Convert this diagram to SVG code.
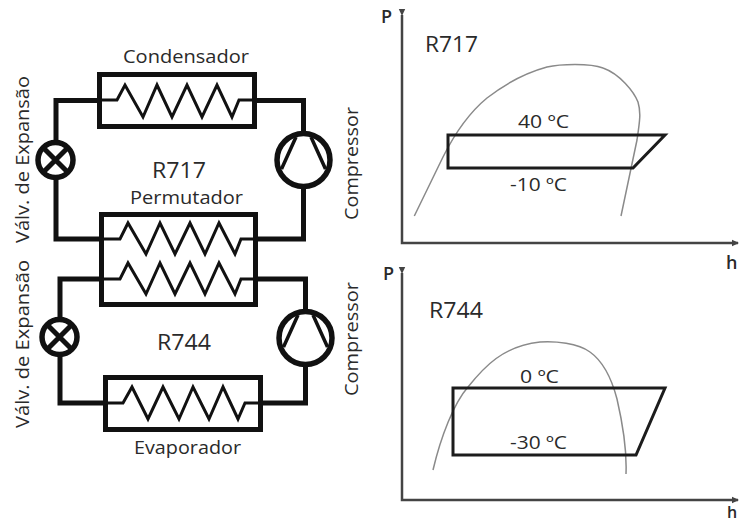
<svg xmlns="http://www.w3.org/2000/svg" width="739" height="524" viewBox="0 0 739 524">
<style>
text{font-family:"Open Sans","Noto Sans",sans-serif;fill:#2a2a2a;font-size:18px}
.big{font-size:22px}
.pl{font-weight:600;font-size:18px}
.box{fill:none;stroke:#111;stroke-width:5}
.zig{fill:none;stroke:#111;stroke-width:3;stroke-linejoin:miter}
.wire{fill:none;stroke:#111;stroke-width:5}
.sym{fill:#fff;stroke:#111;stroke-width:5.500}
.in{fill:none;stroke:#111;stroke-width:3.500}
.x{fill:none;stroke:#111;stroke-width:5}
.axis{fill:none;stroke:#444;stroke-width:2.500}
.curve{fill:none;stroke:#8a8a8a;stroke-width:1.500}
.cycle{fill:none;stroke:#1c1c1c;stroke-width:3}
</style>
<defs>
<marker id="ah" markerUnits="userSpaceOnUse" markerWidth="8" markerHeight="8" refX="6" refY="4" orient="auto"><path d="M0 0.800L7 4L0 7.200Z" fill="#444"/></marker>
</defs>
<rect width="739" height="524" fill="#fff"/>
<g id="connectors">
<path class="wire" d="M99 100.500H56V160V239H101"/>
<path class="wire" d="M255 100.500H303.500V160V239H256"/>
<path class="wire" d="M101 279H60V337V403H105"/>
<path class="wire" d="M256 279H305.500V338V403H261"/>
</g>
<g id="condensador">
<rect class="box" x="99.500" y="74.500" width="155" height="52"/>
<path class="zig" d="M99 100H117L125 85L143 117L157 85L172 117L187 85L202 117L217 85L232 117L239 100H256"/>
<text x="123" y="63" textLength="126" lengthAdjust="spacingAndGlyphs">Condensador</text>
</g>
<g id="permutador">
<rect class="box" x="101.500" y="214.500" width="154" height="90"/>
<path class="zig" d="M101 239H120L128 223L146 254L160 223L175 254L190 223L205 254L219 223L235 254L241 239H256"/>
<path class="zig" d="M101 279H120L128 263L146 294L160 263L175 294L190 263L205 294L219 263L235 294L241 279H256"/>
<text x="130" y="204" textLength="113" lengthAdjust="spacingAndGlyphs">Permutador</text>
</g>
<g id="evaporador">
<rect class="box" x="105.500" y="377.500" width="155" height="52"/>
<path class="zig" d="M105 403H123L132 387L148 419L163 387L179 419L193 387L209 419L223 387L238 419L245 403H261"/>
<text x="134" y="454" textLength="107" lengthAdjust="spacingAndGlyphs">Evaporador</text>
</g>
<g id="valvula-r717">
<circle class="sym" cx="55.500" cy="160" r="17.500"/>
<path class="x" d="M43 147.500L68 172.500M68 147.500L43 172.500"/>
<text transform="translate(29 243) rotate(-90)" textLength="167" lengthAdjust="spacingAndGlyphs">Válv. de Expansão</text>
</g>
<g id="valvula-r744">
<circle class="sym" cx="59.500" cy="337" r="17.500"/>
<path class="x" d="M47 324.500L72 349.500M72 324.500L47 349.500"/>
<text transform="translate(29 428) rotate(-90)" textLength="168" lengthAdjust="spacingAndGlyphs">Válv. de Expansão</text>
</g>
<g id="compressor-r717">
<circle class="sym" cx="303.500" cy="160" r="26.500"/>
<path class="in" d="M296 137L281.500 169M311 137L325.500 169"/>
<text transform="translate(358 220) rotate(-90)" textLength="113" lengthAdjust="spacingAndGlyphs">Compressor</text>
</g>
<g id="compressor-r744">
<circle class="sym" cx="305.500" cy="338" r="26.500"/>
<path class="in" d="M298 315L283.500 347M313 315L327.500 347"/>
<text transform="translate(358 396) rotate(-90)" textLength="114" lengthAdjust="spacingAndGlyphs">Compressor</text>
</g>
<g id="label-r717"><text class="big" x="152" y="178" textLength="54" lengthAdjust="spacingAndGlyphs">R717</text></g>
<g id="label-r744"><text class="big" x="157" y="350" textLength="54" lengthAdjust="spacingAndGlyphs">R744</text></g>
<g id="chart-r717">
<path class="axis" marker-start="url(#ah)" marker-end="url(#ah)" d="M402 15V243H738"/>
<path class="curve" d="M414.300 216L443 157C455 133 470 112 487 98C505 84 525 73 547 67C560 64 590 63 603 68C620 74 634 92 638 102C641 112 640 120 637 140L621 216"/>
<path class="cycle" d="M448 135H665L633 168H448Z"/>
<text class="pl" x="381" y="23">P</text>
<text class="pl" x="726" y="269">h</text>
<text class="big" x="425" y="52" textLength="53" lengthAdjust="spacingAndGlyphs">R717</text>
<text x="518" y="128" textLength="51" lengthAdjust="spacingAndGlyphs">40 ºC</text>
<text x="510" y="191" textLength="57" lengthAdjust="spacingAndGlyphs">-10 ºC</text>
</g>
<g id="chart-r744">
<path class="axis" marker-start="url(#ah)" marker-end="url(#ah)" d="M402 273V500H738"/>
<path class="curve" d="M433 470C441 436 454 403 468 387C484 367 503 346 540 342C555 341 578 343 590 352C604 362 612 380 617 399C623 425 627 450 626 474"/>
<path class="cycle" d="M453 388H665L636 455H453Z"/>
<text class="pl" x="383" y="280">P</text>
<text class="pl" x="727" y="518" style="font-size:16px">h</text>
<text class="big" x="429" y="318" textLength="54" lengthAdjust="spacingAndGlyphs">R744</text>
<text x="520" y="383" textLength="39" lengthAdjust="spacingAndGlyphs">0 ºC</text>
<text x="510" y="449" textLength="57" lengthAdjust="spacingAndGlyphs">-30 ºC</text>
</g>
</svg>
